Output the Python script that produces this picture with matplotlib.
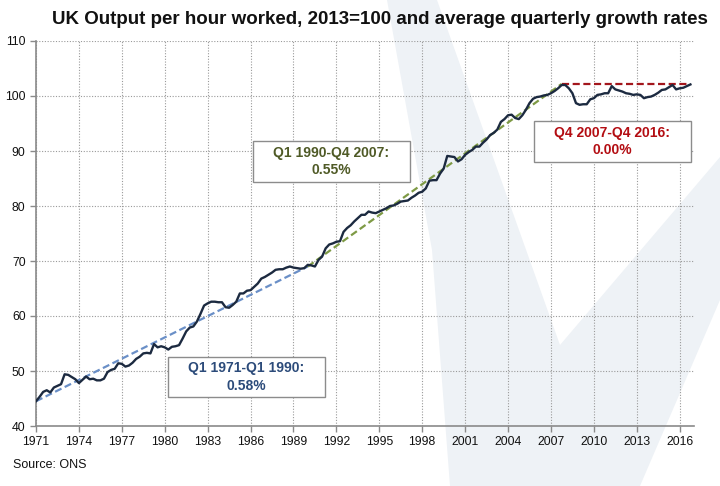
import numpy as np
import matplotlib
matplotlib.use("Agg")
import matplotlib.pyplot as plt
from matplotlib.patches import Polygon, Rectangle

plt.rcParams['font.family'] = ['Liberation Sans', 'DejaVu Sans']

# --- DATA: output per hour, 2013=100, quarterly Q1 1971 - Q4 2016 ---
output = [
    44.5, 45.3, 46.2, 46.5,   # 1971
    46.1, 47.0, 47.3, 47.6,   # 1972
    49.4, 49.3, 48.9, 48.5,   # 1973
    47.8, 48.4, 49.0, 48.5,   # 1974
    48.6, 48.3, 48.3, 48.6,   # 1975
    49.8, 50.2, 50.4, 51.4,   # 1976
    51.3, 50.8, 51.0, 51.5,   # 1977
    52.2, 52.6, 53.2, 53.3,   # 1978
    53.2, 54.9, 54.3, 54.5,   # 1979
    54.3, 53.9, 54.4, 54.5,   # 1980
    54.7, 55.9, 57.2, 57.9,   # 1981
    58.1, 59.0, 60.4, 61.9,   # 1982
    62.3, 62.6, 62.6, 62.5,   # 1983
    62.5, 61.6, 61.5, 62.0,   # 1984
    62.6, 64.1, 64.1, 64.6,   # 1985
    64.7, 65.3, 65.9, 66.8,   # 1986
    67.1, 67.5, 67.9, 68.4,   # 1987
    68.5, 68.5, 68.8, 69.0,   # 1988
    68.8, 68.7, 68.6, 68.7,   # 1989
    69.3, 69.2, 69.0, 70.2,   # 1990
    70.8, 72.3, 73.0, 73.2,   # 1991
    73.5, 73.6, 75.3, 76.0,   # 1992
    76.5, 77.2, 77.8, 78.4,   # 1993
    78.4, 79.0, 78.8, 78.7,   # 1994
    79.0, 79.3, 79.6, 80.0,   # 1995
    80.1, 80.4, 80.8, 80.9,   # 1996
    81.0, 81.5, 81.9, 82.4,   # 1997
    82.6, 83.2, 84.6, 84.7,   # 1998
    84.7, 85.9, 86.8, 89.1,   # 1999
    89.0, 88.9, 88.1, 88.5,   # 2000
    89.3, 89.8, 90.2, 90.8,   # 2001
    90.8, 91.5, 92.1, 92.9,   # 2002
    93.3, 93.9, 95.3, 95.8,   # 2003
    96.5, 96.6, 96.0, 95.8,   # 2004
    96.5, 97.5, 98.7, 99.5,   # 2005
    99.8, 99.9, 100.1, 100.2, # 2006
    100.5, 100.9, 101.4, 102.0,  # 2007
    102.0, 101.4, 100.5, 98.7,   # 2008
    98.4, 98.5, 98.5, 99.4,   # 2009
    99.6, 100.2, 100.3, 100.5,  # 2010
    100.5, 101.8, 101.2, 101.0,  # 2011
    100.8, 100.5, 100.4, 100.2,  # 2012
    100.3, 100.2, 99.6, 99.8,   # 2013
    99.9, 100.2, 100.6, 101.1,  # 2014
    101.2, 101.6, 102.0, 101.2,  # 2015
    101.4, 101.5, 101.8, 102.1,  # 2016
]

# trend segments (quarter index, value at ends)
trend1_q = [0, 76]      # Q1 1971 - Q1 1990
trend1_v = [44.5, 69.0]
trend2_q = [76, 147]    # Q1 1990 - Q4 2007
trend2_v = [69.0, 102.2]
trend3_q = [147, 183]   # Q4 2007 - Q4 2016
trend3_v = [102.2, 102.2]

tick_years = list(range(1971, 2017, 3))
labels = ["Q1 1971-Q1 1990:\n0.58%", "Q1 1990-Q4 2007:\n0.55%", "Q4 2007-Q4 2016:\n0.00%"]

W, H = 720, 486
fig = plt.figure(figsize=(W / 100, H / 100), dpi=100)


def fx(x, y):
    # pixel (from top-left) -> figure fraction
    return (x / W, 1 - y / H)


# faint background watermark
wm = [(387, 0), (437, 0), (560, 345), (720, 157), (720, 300), (640, 486), (450, 486), (432, 250)]
fig.patches.append(Polygon([fx(*p) for p in wm], closed=True, transform=fig.transFigure,
                           facecolor='#eef2f6', edgecolor='none', zorder=-1))

ax = fig.add_axes([36 / W, 1 - 426 / H, (694 - 36) / W, (426 - 41) / H])
ax.set_facecolor('none')
ax.set_zorder(1)

q = np.arange(len(output))
ax.plot(trend1_q, trend1_v, color='#6a8fc7', lw=1.6, dashes=(3.2, 1.6), zorder=3)
ax.plot(trend2_q, trend2_v, color='#7e9a45', lw=1.6, dashes=(3.2, 1.6), zorder=3)
ax.plot(trend3_q, trend3_v, color='#a3161c', lw=1.6, dashes=(3.2, 1.6), zorder=3)
ax.plot(q, output, color='#1c2a40', lw=1.7, zorder=4)

ax.set_xlim(0, 184)
ax.set_ylim(40, 110)
ax.set_yticks(range(40, 111, 10))
ax.set_xticks([(y - 1971) * 4 for y in tick_years])
ax.set_xticklabels([str(y) for y in tick_years])
ax.tick_params(labelsize=8.8, colors='#8a8a8a', labelcolor='#111111', length=4, width=1)
ax.grid(True, color='#9a9a9a', linestyle=(0, (1, 1.5)), linewidth=0.8)
ax.set_axisbelow(True)
for s in ['top', 'right']:
    ax.spines[s].set_visible(False)
for s in ['left', 'bottom']:
    ax.spines[s].set_color('#8a8a8a')
    ax.spines[s].set_linewidth(1.2)

# annotation boxes (pixel boxes from the reference), drawn in the axes layer
boxes = [(168, 357, 325, 397, '#2c4b7a'), (253, 141, 410, 182, '#4f5a26'), (534, 121, 691, 162, '#b30d12')]
for (x0, y0, x1, y1, c), txt in zip(boxes, labels):
    ax.add_patch(Rectangle(fx(x0, y1), (x1 - x0) / W, (y1 - y0) / H, transform=fig.transFigure,
                           facecolor='white', edgecolor='#8c8c8c', lw=1, zorder=5, clip_on=False))
    ax.text((x0 + x1) / 2 / W, 1 - (y0 + y1) / 2 / H, txt, transform=fig.transFigure,
            ha='center', va='center', color=c, fontsize=10, fontweight='bold',
            linespacing=1.3, zorder=6)

fig.text(708 / W, 1 - 20 / H, "UK Output per hour worked, 2013=100 and average quarterly growth rates",
         ha='right', va='center', fontsize=13.5, fontweight='bold', color='#111111')
fig.text(13 / W, 1 - 465 / H, "Source: ONS", ha='left', va='center', fontsize=9, color='#111111')

fig.savefig('out.png', dpi=100)
